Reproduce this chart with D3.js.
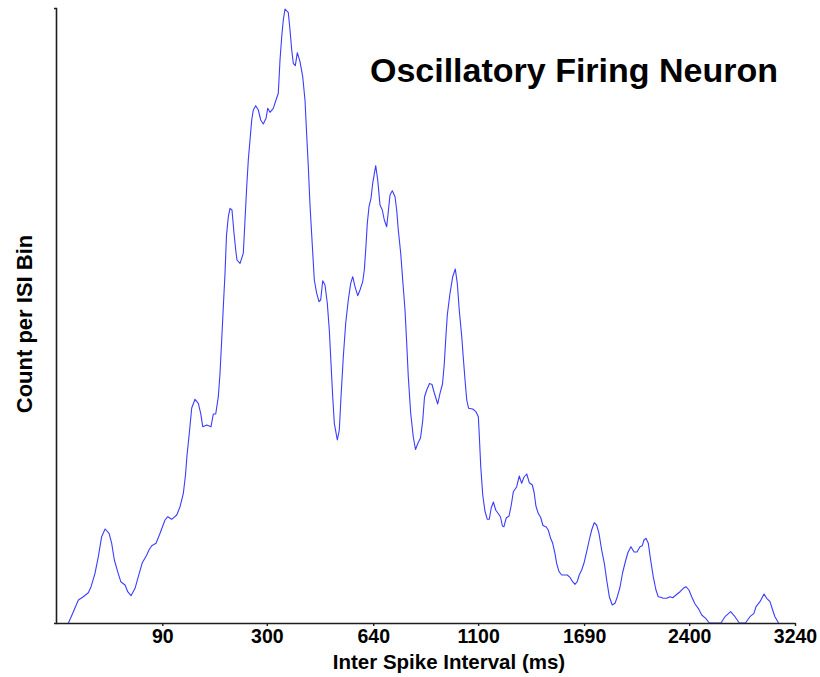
<!DOCTYPE html>
<html>
<head>
<meta charset="utf-8">
<script src="https://cdn.jsdelivr.net/npm/d3@7"></script>
<style>
  html, body { margin: 0; padding: 0; background: #fff; }
  svg { display: block; }
  text { font-family: "Liberation Sans", Arial, Helvetica, sans-serif; font-weight: bold; fill: #000; }
</style>
</head>
<body>
<svg id="chart" width="820" height="677"></svg>
<script>
// Inter-spike-interval histogram (smoothed counts per ISI bin)
const isiMs = [
  6.0,7.9,10.2,12.7,15.5,17.2,19.7,22.0,24.4,27.0,
  30.2,32.4,34.7,37.7,40.6,44.8,47.5,51.0,55.4,59.1,
  63.8,69.2,72.5,75.6,81.3,86.8,93.9,97.9,103.9,111.7,
  117.0,122.4,126.0,128.6,132.5,136.7,142.5,148.5,152.9,156.7,
  164.3,172.6,177.2,182.0,187.3,190.8,194.3,197.7,201.3,204.5,
  208.4,212.1,216.4,220.9,224.7,227.6,234.5,242.1,246.1,250.1,
  253.9,258.0,262.1,266.0,271.9,278.4,284.4,291.0,298.0,302.4,
  308.4,317.1,324.4,330.6,335.3,340.0,344.4,349.2,358.5,363.3,
  368.2,372.8,378.6,384.5,392.4,400.5,407.4,412.6,417.5,422.7,
  428.0,433.0,436.1,443.6,450.9,456.3,462.8,470.2,477.7,484.3,
  489.9,495.6,501.0,511.1,517.9,523.7,531.6,539.9,549.0,557.5,
  564.6,572.8,582.6,590.9,600.8,606.7,611.9,617.8,624.2,631.7,
  638.1,649.5,657.2,666.1,675.0,682.8,692.2,698.5,705.3,714.5,
  725.4,732.2,738.7,748.6,756.8,766.3,773.4,780.0,790.1,801.1,
  810.5,821.2,832.0,841.5,849.4,859.0,871.4,882.5,892.7,908.0,
  918.4,929.8,937.6,945.0,951.9,964.5,977.1,989.3,998.7,1008,
  1020,1027,1037,1044,1053,1073,1089,1101,1106,1113,
  1123,1134,1146,1156,1166,1177,1189,1202,1214,1224,
  1232,1244,1259,1271,1282,1300,1314,1327,1340,1355,
  1369,1386,1396,1406,1419,1433,1446,1465,1476,1490,
  1502,1515,1525,1539,1555,1574,1588,1604,1620,1634,
  1648,1660,1675,1689,1706,1722,1737,1753,1768,1783,
  1800,1817,1832,1849,1868,1886,1901,1918,1936,1955,
  1971,1991,2012,2032,2052,2068,2079,2093,2109,2125,
  2143,2162,2178,2195,2213,2237,2261,2280,2304,2333,
  2357,2376,2398,2418,2443,2467,2493,2523,2550,2639,
  2670,2714,2748,2782,2831,2867,2899,2916,2948,2981,
  3003,3030,3052,3071,3101
];

const binCounts = [
  0,1.1,2.3,2.63,3.03,3.63,4.97,6.63,8.63,9.4,
  8.97,7.97,6.3,5.13,4.13,3.8,3.13,2.73,3.47,4.63,
  6.03,6.8,7.37,7.73,7.97,8.97,10.3,10.63,10.37,10.8,
  11.63,12.97,14.8,16.8,18.97,21.5,22.37,21.97,20.97,19.63,
  19.8,19.63,20.9,20.9,22.63,24.97,28.3,31.63,34.97,38.8,
  40.63,41.47,41.3,38.97,37.3,36.3,35.97,36.97,40.3,43.63,
  46.3,48.3,50.3,51.3,51.73,51.3,50.3,49.9,50.47,51.47,
  51.07,51.47,52.3,52.97,56.3,58.63,60.3,61.4,61.03,59.3,
  57.3,55.97,55.73,57.03,56.13,54.63,52.3,48.8,45.63,41.8,
  38.8,36.0,34.3,32.97,32.13,32.3,34.23,33.8,31.97,29.3,
  25.97,22.63,19.97,18.3,19.3,22.63,26.63,29.97,32.3,33.97,
  34.63,33.63,32.73,33.3,34.13,35.3,37.3,39.97,41.63,42.47,
  43.97,45.73,44.3,41.8,41.3,40.3,39.63,41.13,42.8,43.23,
  42.63,41.3,39.3,36.97,34.3,31.3,27.97,24.63,20.97,18.6,
  17.35,18.0,18.5,20.2,22.6,23.3,23.95,23.85,23.0,21.9,
  22.97,23.9,25.8,28.5,30.8,32.97,34.63,35.4,33.97,31.3,
  28.63,26.63,23.97,22.3,21.47,21.4,21.13,20.63,18.63,15.63,
  12.8,11.2,10.37,10.37,11.5,12.1,11.3,10.95,10.6,9.7,
  9.63,10.5,10.7,11.8,13.13,13.63,14.7,13.97,14.6,14.9,
  14.03,13.8,13.05,11.7,10.97,10.55,9.75,9.6,9.3,8.47,
  7.97,6.97,5.97,5.13,4.8,4.8,4.8,4.57,4.13,3.87,
  4.13,4.8,5.3,5.97,7.13,8.3,9.3,10.03,9.8,8.97,
  7.3,5.97,4.3,2.63,1.8,1.97,2.63,3.55,5.05,6.2,
  7.05,7.63,7.1,7.1,7.63,7.73,8.3,8.47,7.97,6.3,
  4.63,3.3,2.63,2.57,2.47,2.47,2.63,2.53,2.8,3.13,
  3.47,3.63,3.3,2.63,1.9,1.47,0.8,0.47,0,0,
  0.63,1.13,0.63,0,0,0.63,0.97,1.63,2.13,2.9,
  2.47,2.13,1.3,0.63,0
];

const xTickValues = [90, 300, 640, 1100, 1690, 2400, 3240];

const chartTitle = "Oscillatory Firing Neuron";
const xTitle = "Inter Spike Interval (ms)";
const yTitle = "Count per ISI Bin";

const svg = d3.select("#chart");

const plot = { left: 56, right: 795, top: 8, bottom: 623 };

// square-root time axis
const x = d3.scalePow().exponent(0.5)
  .domain([2.3, 3240])
  .range([plot.left, plot.right]);

const y = d3.scaleLinear()
  .domain([0, 61.5])
  .range([plot.bottom, plot.top]);

const points = isiMs.map((t, i) => ({ t, c: binCounts[i] }));

const line = d3.line()
  .x(d => x(d.t))
  .y(d => y(d.c));

svg.append("path")
  .datum(points)
  .attr("fill", "none")
  .attr("stroke", "#3c3cff")
  .attr("stroke-width", 1.1)
  .attr("stroke-linejoin", "round")
  .attr("d", line);

// x axis
const xAxis = svg.append("g")
  .attr("transform", `translate(0,${plot.bottom})`)
  .call(d3.axisBottom(x)
    .tickValues(xTickValues)
    .tickFormat(d3.format("d"))
    .tickSize(3)
    .tickSizeOuter(0));
xAxis.select(".domain").attr("stroke", "#1e1e1e").attr("stroke-width", 1.6);
xAxis.selectAll(".tick line").attr("stroke", "#1e1e1e").attr("stroke-width", 1.4);
xAxis.selectAll(".tick text")
  .attr("y", 6)
  .attr("dy", "0.71em")
  .style("font-family", "'Liberation Sans', Arial, sans-serif")
  .style("font-weight", "bold")
  .style("font-size", "19.5px")
  .attr("fill", "#000");

// y axis (no ticks, short cap at the top)
const yAxis = svg.append("g")
  .attr("transform", `translate(${plot.left},0)`)
  .call(d3.axisLeft(y).tickValues([]).tickSizeOuter(2));
yAxis.select(".domain").attr("stroke", "#1e1e1e").attr("stroke-width", 1.6);

// titles
svg.append("text")
  .attr("x", 574)
  .attr("y", 82)
  .attr("text-anchor", "middle")
  .style("font-size", "34px")
  .text(chartTitle);

svg.append("text")
  .attr("x", 449)
  .attr("y", 669)
  .attr("text-anchor", "middle")
  .style("font-size", "20.5px")
  .text(xTitle);

svg.append("text")
  .attr("transform", "translate(32,324) rotate(-90)")
  .attr("text-anchor", "middle")
  .style("font-size", "22px")
  .text(yTitle);
</script>
</body>
</html>
